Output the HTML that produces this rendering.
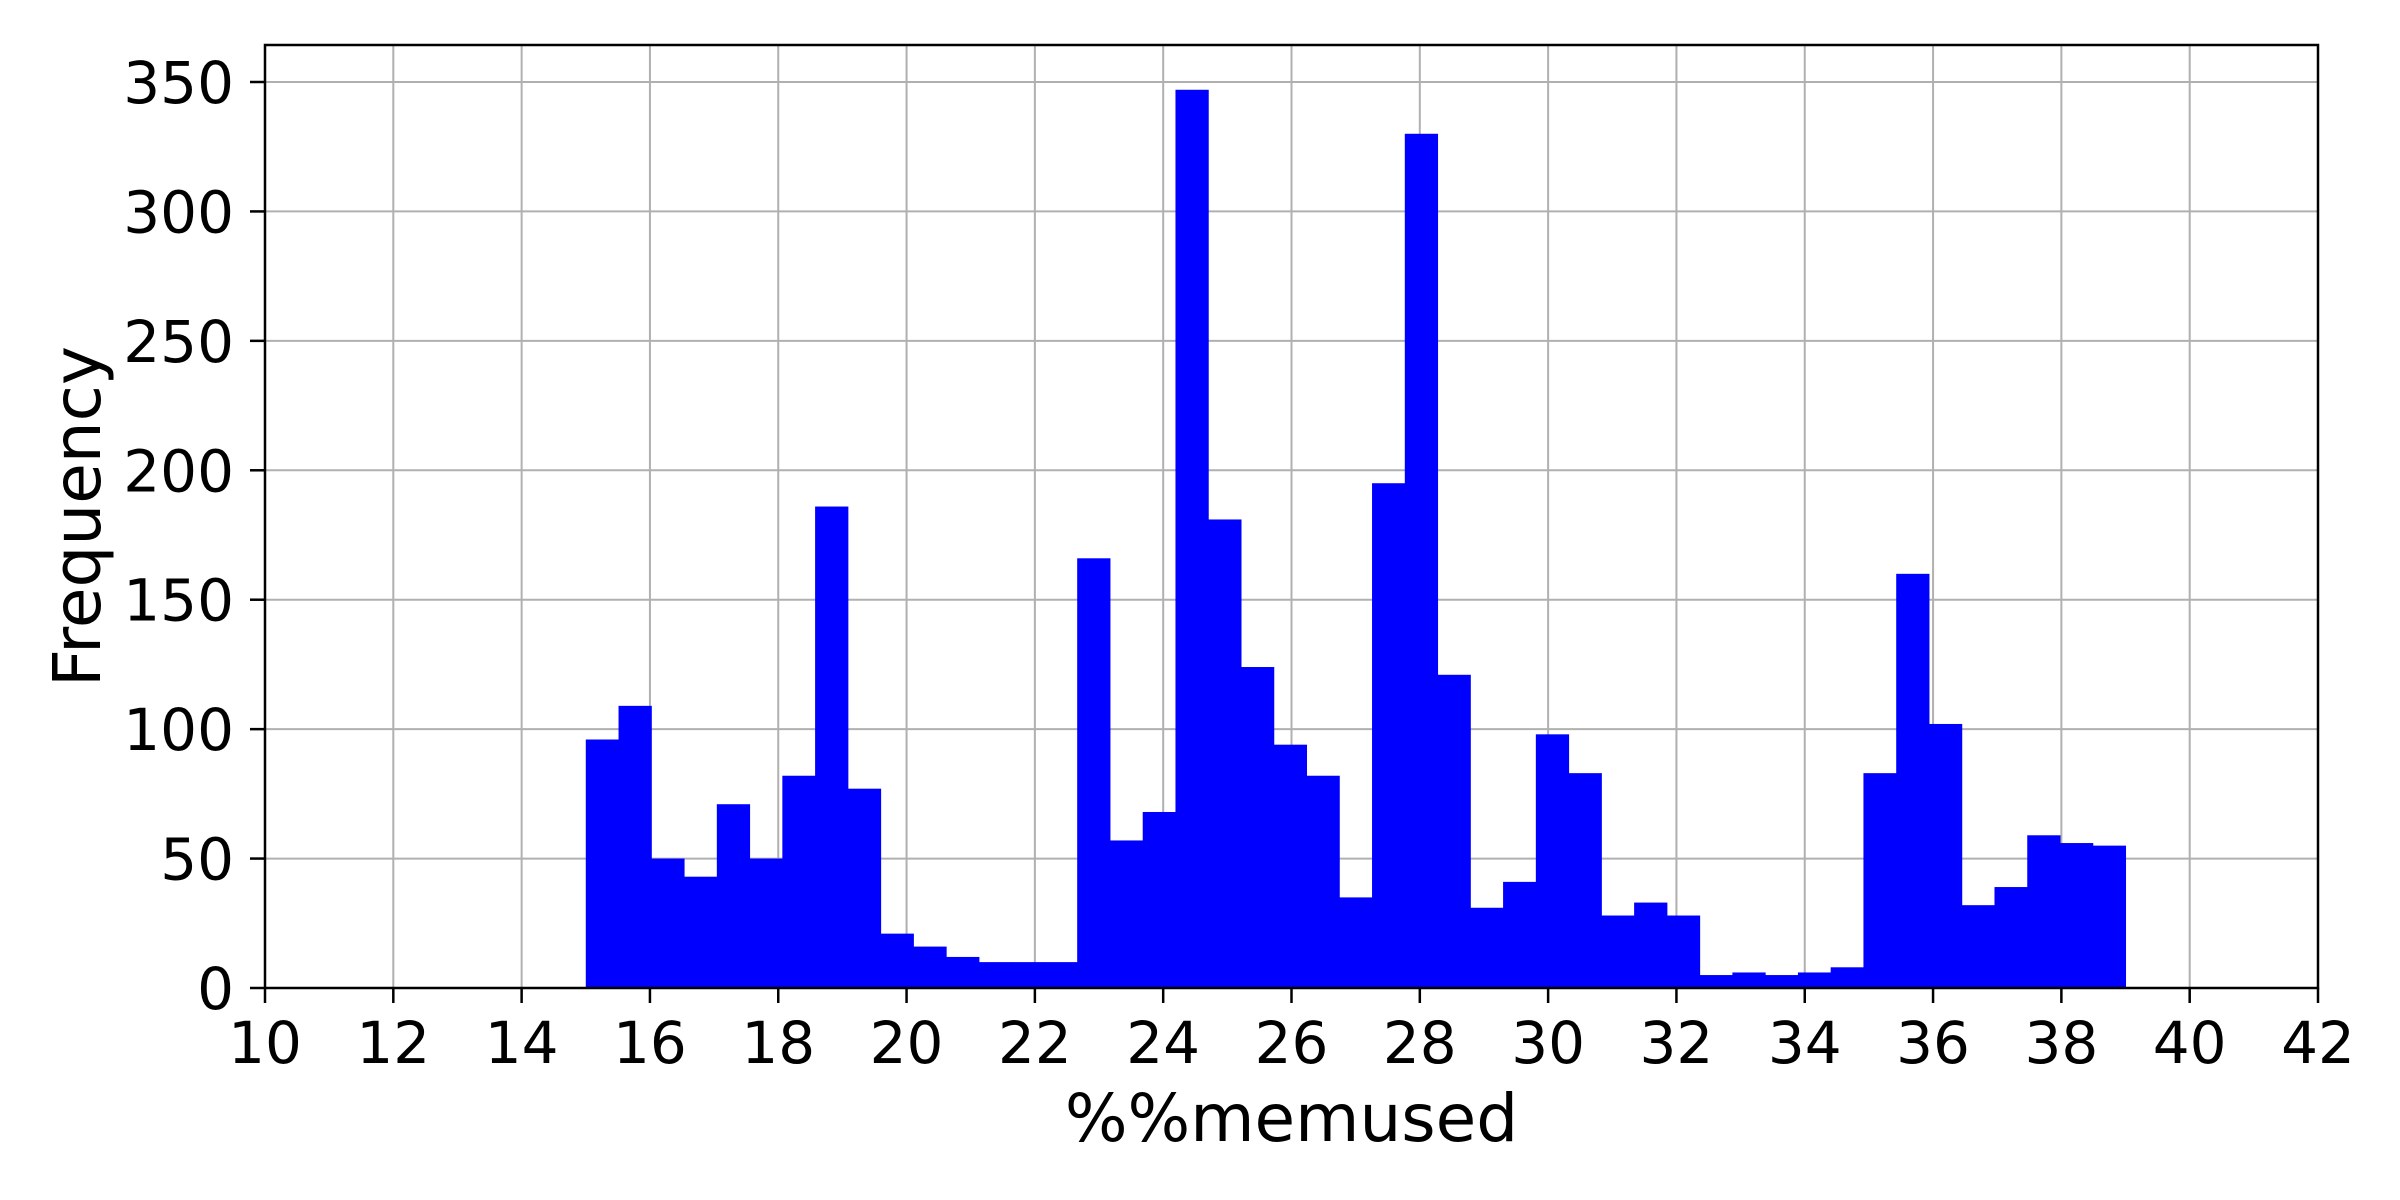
<!DOCTYPE html>
<html><head><meta charset="utf-8"><style>
html,body{margin:0;padding:0;background:#fff;}
svg{display:block;font-family:"DejaVu Sans","Liberation Sans",sans-serif;}
</style></head><body>
<svg id="chart" width="2400" height="1200" viewBox="0 0 2400 1200"></svg>
<script>
const counts=[96,109,50,43,71,50,82,186,77,21,16,12,10,10,10,166,57,68,347,181,124,94,82,35,195,330,121,31,41,98,83,28,33,28,5,6,5,6,8,83,160,102,32,39,59,56,55];
const binMin=15, binMax=39;
const xTicks=[10,12,14,16,18,20,22,24,26,28,30,32,34,36,38,40,42];
const yTicks=[0,50,100,150,200,250,300,350];
const L=265,R=2318,T=45,B=988;
const xs=v=>L+(v-10)/32*(R-L);
const ys=v=>B-v/350*(B-82);
const svg=document.getElementById('chart');
const NS='http://www.w3.org/2000/svg';
function mk(tag,attrs,parent){const e=document.createElementNS(NS,tag);for(const k in attrs)e.setAttribute(k,attrs[k]);(parent||svg).appendChild(e);return e;}
const grid=mk('g',{});


const bars=mk('g',{});


const w=(binMax-binMin)/counts.length;
counts.forEach((c,i)=>{
  const x0=xs(binMin+i*w),x1=xs(binMin+(i+1)*w);
  const r=mk('rect',{x:x0,y:ys(c),width:x1-x0+0.5,height:B-ys(c),fill:'#0000ff'},bars);
  
  
});
xTicks.forEach(t=>{
  const x=xs(t);
  const g=mk('line',{x1:x,x2:x,y1:T,y2:B,stroke:'#b0b0b0','stroke-width':2},grid);
  
  
  mk('line',{x1:x,x2:x,y1:B,y2:B+15,stroke:'#000','stroke-width':2.5});
  const tx=mk('text',{x:x,y:1063,'font-size':58,'text-anchor':'middle',fill:'#000'});
  tx.textContent=t;
  
  
});
yTicks.forEach(t=>{
  const y=ys(t);
  const g=mk('line',{x1:L,x2:R,y1:y,y2:y,stroke:'#b0b0b0','stroke-width':2},grid);
  
  
  mk('line',{x1:L-15,x2:L,y1:y,y2:y,stroke:'#000','stroke-width':2.5});
  const tx=mk('text',{x:L-31,y:y+21,'font-size':58,'text-anchor':'end',fill:'#000'});
  tx.textContent=t;
  
  
});
svg.appendChild(bars);
const frame=mk('rect',{x:L,y:T,width:R-L,height:B-T,fill:'none',stroke:'#000','stroke-width':2.5});


const xl=mk('text',{x:(L+R)/2,y:1141,'font-size':66,'text-anchor':'middle',fill:'#000'});
xl.textContent='%%memused';


const yl=mk('text',{x:0,y:0,'font-size':66,'text-anchor':'middle',fill:'#000',transform:'translate(100,'+((T+B)/2)+') rotate(-90)'});
yl.textContent='Frequency';


</script>
</body></html>
